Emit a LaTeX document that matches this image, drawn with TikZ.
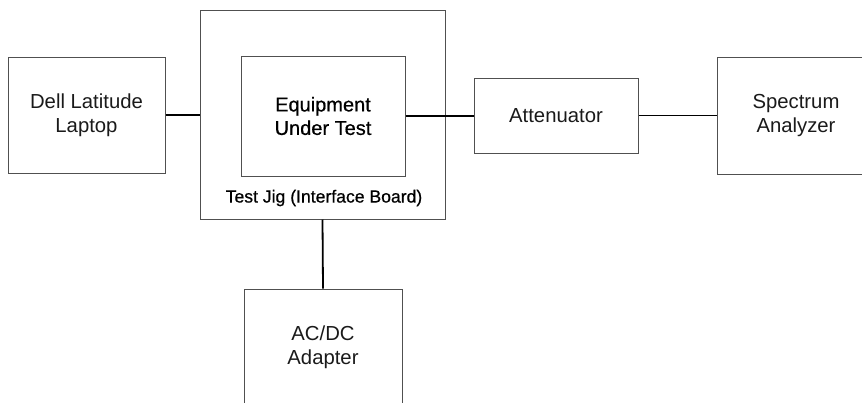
\documentclass[tikz,border=0pt]{standalone}
\usepackage{fontspec}
\setmainfont{Liberation Sans}
\newfontfamily\semib[FakeBold=0.6]{Liberation Sans}
\definecolor{boxline}{HTML}{505050}
\definecolor{txt}{HTML}{1A1A1A}
\begin{document}
\begin{tikzpicture}[x=1pt,y=-1pt,
  blk/.style={draw=boxline,line width=1pt,rectangle,inner sep=0pt,align=center,text=txt,
    font=\fontsize{20.3}{24}\selectfont},
  wire/.style={draw=black,line width=1.8pt}]
\useasboundingbox (0,0) rectangle (862,402);
\clip (0,0) rectangle (862,402);
% boxes
\node[blk,minimum width=157pt,minimum height=116pt] (dell) at (86.5,115) {Dell Latitude\\Laptop};
\node[blk,minimum width=245pt,minimum height=209pt] (jig) at (322.5,114.5) {};
\node[blk,minimum width=164pt,minimum height=120pt,text=black,
  font=\semib\fontsize{20}{23.5}\selectfont] (eut) at (323,116) {Equipment\\Under Test};
\node[text=black,font=\semib\fontsize{17.6}{20}\selectfont,inner sep=0pt] (jiglabel) at (324,198) {Test Jig (Interface Board)};
\node[blk,minimum width=164pt,minimum height=75pt] (att) at (556,115.5) {Attenuator};
\node[blk,minimum width=158pt,minimum height=117pt] (spec) at (796,115.5) {Spectrum\\Analyzer};
\node[blk,minimum width=158pt,minimum height=116pt] (ac) at (323,347) {AC/DC\\Adapter};
% connectors
\draw[wire] (dell.east) -- (dell.east -| jig.west);
\draw[wire] (eut.east) -- (eut.east -| att.west);
\draw[wire] (att.east) -- (att.east -| spec.west);
\draw[wire] (jig.south) -- (ac.north);
\end{tikzpicture}
\end{document}
